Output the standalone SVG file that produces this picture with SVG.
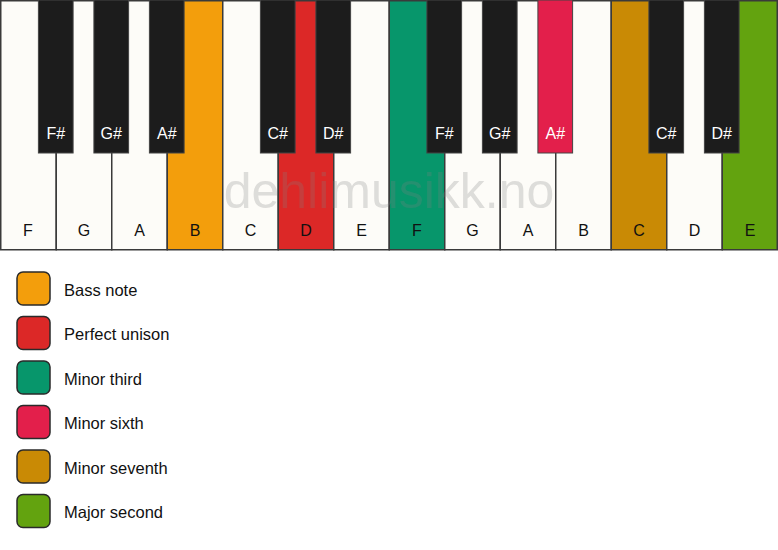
<svg xmlns="http://www.w3.org/2000/svg" width="778" height="550" viewBox="0 0 778 550">
<style>
.w{fill:#fdfcf8;stroke:#3a3a3a;stroke-width:1.5}
.b{fill:#1c1c1c;stroke:#444;stroke-width:1}
.wl{font-family:"Liberation Sans",Arial,sans-serif;font-size:16px;fill:#111;text-anchor:middle}
.bl{font-family:"Liberation Sans",Arial,sans-serif;font-size:16px;fill:#fff;text-anchor:middle}
.lg{stroke:#2a2a2a;stroke-width:1.5}
.lt{font-family:"Liberation Sans",Arial,sans-serif;font-size:16.5px;fill:#111}
.wm{font-family:"Liberation Sans",Arial,sans-serif;font-size:50px;fill:#808080;fill-opacity:0.25;text-anchor:middle}
</style>
<rect width="778" height="550" fill="#ffffff"/>
<g id="white-keys">
<g id="wk-F1"><rect class="w" x="0.75" y="0.75" width="55.5" height="249"/><text class="wl" x="28" y="236">F</text></g>
<g id="wk-G1"><rect class="w" x="56.25" y="0.75" width="55.5" height="249"/><text class="wl" x="84" y="236">G</text></g>
<g id="wk-A1"><rect class="w" x="111.75" y="0.75" width="55.5" height="249"/><text class="wl" x="139.5" y="236">A</text></g>
<g id="wk-B1"><rect class="w" x="167.25" y="0.75" width="55.5" height="249" style="fill:#f39e0c"/><text class="wl" x="195" y="236">B</text></g>
<g id="wk-C1"><rect class="w" x="222.75" y="0.75" width="55.5" height="249"/><text class="wl" x="250.5" y="236">C</text></g>
<g id="wk-D1"><rect class="w" x="278.25" y="0.75" width="55.5" height="249" style="fill:#dc2827"/><text class="wl" x="306" y="236">D</text></g>
<g id="wk-E1"><rect class="w" x="333.75" y="0.75" width="55.5" height="249"/><text class="wl" x="361.5" y="236">E</text></g>
<g id="wk-F2"><rect class="w" x="389.25" y="0.75" width="55.5" height="249" style="fill:#07966b"/><text class="wl" x="417" y="236">F</text></g>
<g id="wk-G2"><rect class="w" x="444.75" y="0.75" width="55.5" height="249"/><text class="wl" x="472.5" y="236">G</text></g>
<g id="wk-A2"><rect class="w" x="500.25" y="0.75" width="55.5" height="249"/><text class="wl" x="528" y="236">A</text></g>
<g id="wk-B2"><rect class="w" x="555.75" y="0.75" width="55.5" height="249"/><text class="wl" x="583.5" y="236">B</text></g>
<g id="wk-C2"><rect class="w" x="611.25" y="0.75" width="55.5" height="249" style="fill:#c98a05"/><text class="wl" x="639" y="236">C</text></g>
<g id="wk-D2"><rect class="w" x="666.75" y="0.75" width="55.5" height="249"/><text class="wl" x="694.5" y="236">D</text></g>
<g id="wk-E2"><rect class="w" x="722.25" y="0.75" width="55" height="249" style="fill:#63a30f"/><text class="wl" x="750" y="236">E</text></g>
</g>
<text class="wm" x="389" y="208">dehlimusikk.no</text>
<g id="black-keys">
<g id="bk-Fs1"><rect class="b" x="38.4" y="0" width="34.7" height="153"/><text class="bl" x="55.75" y="139">F#</text></g>
<g id="bk-Gs1"><rect class="b" x="93.9" y="0" width="34.7" height="153"/><text class="bl" x="111.25" y="139">G#</text></g>
<g id="bk-As1"><rect class="b" x="149.4" y="0" width="34.7" height="153"/><text class="bl" x="166.75" y="139">A#</text></g>
<g id="bk-Cs1"><rect class="b" x="260.4" y="0" width="34.7" height="153"/><text class="bl" x="277.75" y="139">C#</text></g>
<g id="bk-Ds1"><rect class="b" x="315.9" y="0" width="34.7" height="153"/><text class="bl" x="333.25" y="139">D#</text></g>
<g id="bk-Fs2"><rect class="b" x="426.9" y="0" width="34.7" height="153"/><text class="bl" x="444.25" y="139">F#</text></g>
<g id="bk-Gs2"><rect class="b" x="482.4" y="0" width="34.7" height="153"/><text class="bl" x="499.75" y="139">G#</text></g>
<g id="bk-As2"><rect class="b" x="537.9" y="0" width="34.7" height="153" style="fill:#e31f4b"/><text class="bl" x="555.25" y="139">A#</text></g>
<g id="bk-Cs2"><rect class="b" x="648.9" y="0" width="34.7" height="153"/><text class="bl" x="666.25" y="139">C#</text></g>
<g id="bk-Ds2"><rect class="b" x="704.4" y="0" width="34.7" height="153"/><text class="bl" x="721.75" y="139">D#</text></g>
</g>
<g id="legend">
<g id="lg-bass"><rect class="lg" x="17" y="272" width="33" height="33" rx="6" fill="#f39e0c"/><text class="lt" x="64" y="295.5">Bass note</text></g>
<g id="lg-unison"><rect class="lg" x="17" y="316.5" width="33" height="33" rx="6" fill="#dc2827"/><text class="lt" x="64" y="340">Perfect unison</text></g>
<g id="lg-m3"><rect class="lg" x="17" y="361" width="33" height="33" rx="6" fill="#07966b"/><text class="lt" x="64" y="384.5">Minor third</text></g>
<g id="lg-m6"><rect class="lg" x="17" y="405.5" width="33" height="33" rx="6" fill="#e31f4b"/><text class="lt" x="64" y="429">Minor sixth</text></g>
<g id="lg-m7"><rect class="lg" x="17" y="450" width="33" height="33" rx="6" fill="#c98a05"/><text class="lt" x="64" y="473.5">Minor seventh</text></g>
<g id="lg-M2"><rect class="lg" x="17" y="494.5" width="33" height="33" rx="6" fill="#63a30f"/><text class="lt" x="64" y="518">Major second</text></g>
</g>
<g id="connectors"/>
</svg>
